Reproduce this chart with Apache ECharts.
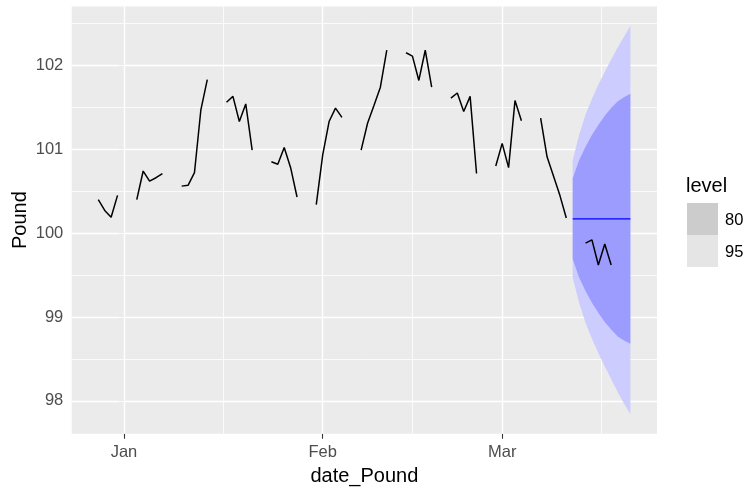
<!DOCTYPE html>
<html>
<head>
<meta charset="utf-8">
<script src="https://cdn.jsdelivr.net/npm/echarts@6/dist/echarts.min.js"></script>
<style>
  html, body { margin: 0; padding: 0; background: #ffffff; }
  #chart { width: 747px; height: 488px; }
</style>
</head>
<body>
<div id="chart"></div>
<script>
// Observed daily GBP index (business days only)
const histDates = [
  '2021-12-28', '2021-12-29', '2021-12-30', '2021-12-31',
  '2022-01-03', '2022-01-04', '2022-01-05', '2022-01-06', '2022-01-07',
  '2022-01-10', '2022-01-11', '2022-01-12', '2022-01-13', '2022-01-14',
  '2022-01-17', '2022-01-18', '2022-01-19', '2022-01-20', '2022-01-21',
  '2022-01-24', '2022-01-25', '2022-01-26', '2022-01-27', '2022-01-28',
  '2022-01-31', '2022-02-01', '2022-02-02', '2022-02-03', '2022-02-04',
  '2022-02-07', '2022-02-08', '2022-02-09', '2022-02-10', '2022-02-11',
  '2022-02-14', '2022-02-15', '2022-02-16', '2022-02-17', '2022-02-18',
  '2022-02-21', '2022-02-22', '2022-02-23', '2022-02-24', '2022-02-25',
  '2022-02-28', '2022-03-01', '2022-03-02', '2022-03-03', '2022-03-04',
  '2022-03-07', '2022-03-08', '2022-03-09', '2022-03-10', '2022-03-11'
];
const histValues = [
  100.40, 100.27, 100.19, 100.45,
  100.40, 100.74, 100.62, 100.66, 100.71,
  100.56, 100.57, 100.72, 101.47, 101.83,
  101.56, 101.63, 101.33, 101.54, 100.99,
  100.85, 100.82, 101.02, 100.78, 100.43,
  100.34, 100.93, 101.33, 101.49, 101.38,
  100.99, 101.31, 101.52, 101.74, 102.18,
  102.15, 102.11, 101.82, 102.18, 101.74,
  101.61, 101.67, 101.45, 101.63, 100.71,
  100.80, 101.07, 100.78, 101.58, 101.34,
  101.37, 100.91, 100.68, 100.45, 100.18
];

// Held-out observations
const testDates = ['2022-03-14', '2022-03-15', '2022-03-16', '2022-03-17', '2022-03-18'];
const testValues = [99.88, 99.92, 99.62, 99.87, 99.62];

// Naive forecast with prediction intervals
const fcDates = [
  '2022-03-12', '2022-03-13', '2022-03-14', '2022-03-15', '2022-03-16',
  '2022-03-17', '2022-03-18', '2022-03-19', '2022-03-20', '2022-03-21'
];
const fcMean = [100.17, 100.17, 100.17, 100.17, 100.17, 100.17, 100.17, 100.17, 100.17, 100.17];
const lo80 = [99.69, 99.47, 99.31, 99.17, 99.05, 98.94, 98.85, 98.77, 98.72, 98.68];
const hi80 = [100.65, 100.87, 101.03, 101.17, 101.29, 101.40, 101.49, 101.57, 101.62, 101.66];
const lo95 = [99.47, 99.17, 98.93, 98.74, 98.57, 98.41, 98.26, 98.11, 97.97, 97.84];
const hi95 = [100.87, 101.17, 101.41, 101.60, 101.77, 101.92, 102.07, 102.21, 102.34, 102.47];

// Axis breaks
const monthStarts = ['2022-01-01', '2022-02-01', '2022-03-01', '2022-04-01'];
const monthLabels = ['Jan', 'Feb', 'Mar', 'Apr'];
const yBreaks = [98, 99, 100, 101, 102];
const levelLabels = ['80', '95'];

// ---- helpers ----
const DAY = 86400000;
const ORIGIN = Date.UTC(2022, 0, 1);
function dayIndex(s) {
  const p = s.split('-').map(Number);
  return (Date.UTC(p[0], p[1] - 1, p[2]) - ORIGIN) / DAY;
}

// Break a daily line wherever there is a gap in the calendar
function withGaps(dates, values) {
  const out = [];
  let prev = null;
  dates.forEach((d, i) => {
    const x = dayIndex(d);
    if (prev !== null && x - prev > 1) out.push([prev + 1, null]);
    out.push([x, values[i]]);
    prev = x;
  });
  return out;
}

const fcX = fcDates.map(dayIndex);
const allX = histDates.concat(testDates, fcDates).map(dayIndex);
const allY = histValues.concat(testValues, lo95, hi95);

// ggplot-like 5% expansion of the data range
function expand(arr) {
  const lo = Math.min.apply(null, arr), hi = Math.max.apply(null, arr);
  const pad = (hi - lo) * 0.05;
  return [lo - pad, hi + pad];
}
const [xMin, xMax] = expand(allX);
const [yMin, yMax] = expand(allY);

const majorX = monthStarts.map(dayIndex);
const minorX = [];
for (let i = 0; i < majorX.length - 1; i++) minorX.push((majorX[i] + majorX[i + 1]) / 2);
const xTickVals = majorX.filter(v => v >= xMin && v <= xMax);
const minorXIn = minorX.filter(v => v >= xMin && v <= xMax);
const minorY = [];
for (let i = 0; i < yBreaks.length; i++) minorY.push(yBreaks[i] - 0.5);
minorY.push(yBreaks[yBreaks.length - 1] + 0.5);
const minorYIn = minorY.filter(v => v >= yMin && v <= yMax);

const MINOR = { color: '#ffffff', width: 0.8, type: 'solid' };
const MAJOR = { color: '#ffffff', width: 1.4, type: 'solid' };
const gridLines = [];
minorYIn.forEach(v => gridLines.push({ yAxis: v, lineStyle: MINOR }));
minorXIn.forEach(v => gridLines.push({ xAxis: v, lineStyle: MINOR }));
yBreaks.forEach(v => gridLines.push({ yAxis: v, lineStyle: MAJOR }));
xTickVals.forEach(v => gridLines.push({ xAxis: v, lineStyle: MAJOR }));

function bandSeries(lo, hi, color, z) {
  return {
    type: 'custom',
    z: z,
    silent: true,
    animation: false,
    data: [[fcX[0], hi[0]]],
    renderItem: function (params, api) {
      const pts = [];
      for (let i = 0; i < fcX.length; i++) pts.push(api.coord([fcX[i], hi[i]]));
      for (let i = fcX.length - 1; i >= 0; i--) pts.push(api.coord([fcX[i], lo[i]]));
      return { type: 'polygon', shape: { points: pts }, style: { fill: color } };
    }
  };
}

const FONT = '"Liberation Sans", Arial, sans-serif';
const chart = echarts.init(document.getElementById('chart'), null, { renderer: 'canvas' });

chart.setOption({
  animation: false,
  backgroundColor: '#ffffff',
  grid: {
    left: 71.7, top: 6.5, width: 585.3, height: 427.2,
    outerBoundsMode: 'none',
    show: true, backgroundColor: '#EBEBEB', borderWidth: 0, containLabel: false
  },
  xAxis: {
    type: 'value', min: xMin, max: xMax,
    name: 'date_Pound', nameLocation: 'middle', nameGap: 32.5, nameMoveOverlap: false,
    nameTextStyle: { color: '#000000', fontSize: 20, fontFamily: FONT },
    axisLine: { show: false },
    axisTick: { show: true, customValues: xTickVals, length: 5, lineStyle: { color: '#333333', width: 1.1 } },
    axisLabel: {
      customValues: xTickVals, margin: 10.5, color: '#4D4D4D', fontSize: 16.5, fontFamily: FONT,
      formatter: v => monthLabels[majorX.indexOf(v)]
    },
    splitLine: { show: false }, minorSplitLine: { show: false }
  },
  yAxis: {
    type: 'value', min: yMin, max: yMax,
    name: 'Pound', nameLocation: 'middle', nameGap: 41, nameRotate: 90, nameMoveOverlap: false,
    nameTextStyle: { color: '#000000', fontSize: 20, fontFamily: FONT },
    axisLine: { show: false },
    axisTick: { show: true, customValues: yBreaks, length: 5, lineStyle: { color: '#333333', width: 1.1 } },
    axisLabel: {
      customValues: yBreaks, margin: 8.4, color: '#4D4D4D', fontSize: 16.5, fontFamily: FONT
    },
    splitLine: { show: false }, minorSplitLine: { show: false }
  },
  series: [
    {
      type: 'line', z: 1, silent: true, data: [],
      markLine: { z: 1, silent: true, symbol: ['none', 'none'], label: { show: false }, animation: false, data: gridLines }
    },
    bandSeries(lo95, hi95, '#CCCCFE', 2),
    bandSeries(lo80, hi80, '#9C9CFE', 3),
    {
      type: 'line', z: 4, silent: true, showSymbol: false,
      data: fcX.map((x, i) => [x, fcMean[i]]),
      lineStyle: { color: '#0000FF', width: 1.4 }
    },
    {
      type: 'line', z: 5, silent: true, showSymbol: false, connectNulls: false,
      data: withGaps(histDates, histValues),
      lineStyle: { color: '#000000', width: 1.5 }
    },
    {
      type: 'line', z: 5, silent: true, showSymbol: false, connectNulls: false,
      data: withGaps(testDates, testValues),
      lineStyle: { color: '#000000', width: 1.5 }
    }
  ],
  graphic: [
    { type: 'text', x: 686, y: 186, style: { text: 'level', fill: '#000000', font: '20px ' + FONT, verticalAlign: 'middle' } },
    { type: 'rect', shape: { x: 687, y: 203, width: 31, height: 32 }, style: { fill: '#CCCCCC' } },
    { type: 'rect', shape: { x: 687, y: 235, width: 31, height: 32 }, style: { fill: '#E5E5E5' } },
    { type: 'text', x: 725, y: 220, style: { text: levelLabels[0], fill: '#000000', font: '16.5px ' + FONT, verticalAlign: 'middle' } },
    { type: 'text', x: 725, y: 252, style: { text: levelLabels[1], fill: '#000000', font: '16.5px ' + FONT, verticalAlign: 'middle' } }
  ]
});
</script>
</body>
</html>
